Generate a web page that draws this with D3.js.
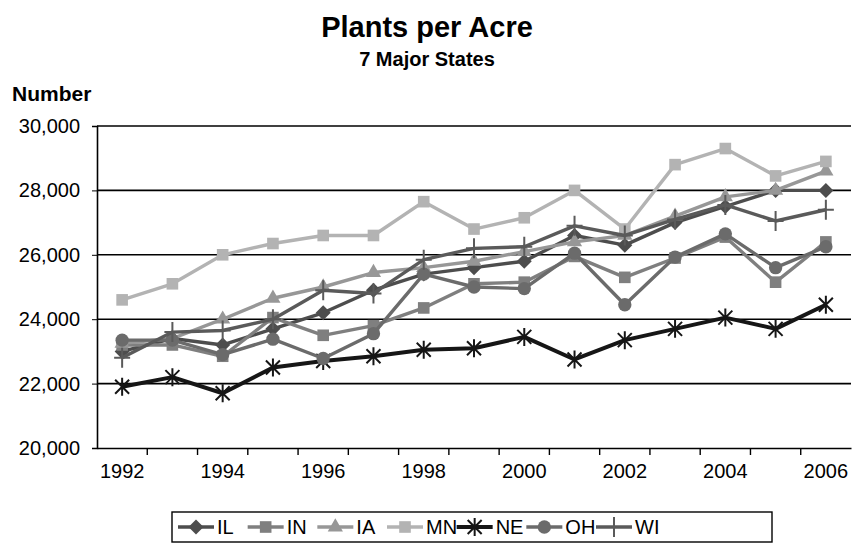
<!DOCTYPE html>
<html>
<head>
<meta charset="UTF-8" />
<title>Plants per Acre</title>
<script src="https://cdn.jsdelivr.net/npm/d3@7"></script>
<style>
  body { margin: 0; background: #fff; }
  svg { font-family: "Liberation Sans", Arial, sans-serif; }
</style>
</head>
<body>
<svg id="chart" width="854" height="548"></svg>
<script>
// years on the category axis
var years = [1992, 1993, 1994, 1995, 1996, 1997, 1998, 1999, 2000, 2001, 2002, 2003, 2004, 2005, 2006]
var yTicks = [20000, 22000, 24000, 26000, 28000, 30000]

// plants per acre by state
var IL = [23000, 23400, 23200, 23700, 24200, 24900, 25400, 25600, 25800, 26600, 26300, 27000, 27500, 28000, 28000]
var IN = [23200, 23200, 22850, 24050, 23500, 23800, 24350, 25100, 25150, 25950, 25300, 25900, 26550, 25150, 26400]
var IA = [23250, 23400, 24000, 24650, 25000, 25450, 25600, 25800, 26100, 26400, 26600, 27200, 27800, 28000, 28600]
var MN = [24600, 25100, 26000, 26350, 26600, 26600, 27650, 26800, 27150, 28000, 26800, 28800, 29300, 28450, 28900]
var NE = [21900, 22200, 21700, 22500, 22700, 22850, 23050, 23100, 23450, 22750, 23350, 23700, 24050, 23700, 24450]
var OH = [23350, 23350, 22900, 23380, 22780, 23550, 25400, 25000, 24950, 26050, 24450, 25930, 26650, 25600, 26250]
var WI = [22800, 23600, 23650, 24000, 24900, 24800, 25850, 26200, 26250, 26900, 26600, 27100, 27550, 27050, 27400]

var seriesNames = ["IL", "IN", "IA", "MN", "NE", "OH", "WI"]
var seriesValues = [IL, IN, IA, MN, NE, OH, WI]

var colors = {IL: "#4d4d4d", IN: "#7f7f7f", IA: "#979797", MN: "#b3b3b3", NE: "#161616", OH: "#6b6b6b", WI: "#5a5a5a"}

var svg = d3.select("#chart")
var plotLeft = 97, plotRight = 851, plotTop = 126, plotBottom = 448

var xBand = d3.scaleBand().domain(years).range([plotLeft, plotRight])
var x = d => xBand(d) + xBand.bandwidth() / 2
var y = d3.scaleLinear().domain([20000, 30000]).range([plotBottom, plotTop])

// titles
svg.append("text").attr("x", 427).attr("y", 37).attr("text-anchor", "middle")
  .style("font-size", "29px").style("font-weight", "bold").text("Plants per Acre")
svg.append("text").attr("x", 427).attr("y", 66).attr("text-anchor", "middle")
  .style("font-size", "20px").style("font-weight", "bold").text("7 Major States")
svg.append("text").attr("x", 12).attr("y", 101)
  .style("font-size", "21px").style("font-weight", "bold").text("Number")

// gridlines
svg.append("g").selectAll("line").data(yTicks.slice(1)).enter().append("line")
  .attr("x1", plotLeft).attr("x2", plotRight)
  .attr("y1", d => y(d)).attr("y2", d => y(d))
  .attr("stroke", "#000").attr("stroke-width", 1.6)

// y axis
var yAxis = d3.axisLeft(y).tickValues(yTicks).tickFormat(d3.format(",")).tickSize(5).tickPadding(12)
var yG = svg.append("g").attr("transform", "translate(" + plotLeft + ",0)").call(yAxis)
yG.select(".domain").attr("stroke-width", 1.6)
yG.selectAll("text").style("font-size", "20px").attr("fill", "#000")

// x axis: labels on every other year, ticks between categories
var xAxis = d3.axisBottom(xBand).tickSize(0).tickPadding(16)
  .tickFormat((d, i) => i % 2 == 0 ? d : "")
var xG = svg.append("g").attr("transform", "translate(0," + plotBottom + ")").call(xAxis)
xG.select(".domain").attr("stroke-width", 1.6)
xG.selectAll("text").style("font-size", "20px").attr("fill", "#000")
xG.selectAll(".sep").data(years.slice(1)).enter().append("line")
  .attr("class", "sep")
  .attr("x1", d => xBand(d)).attr("x2", d => xBand(d))
  .attr("y1", 0).attr("y2", 7)
  .attr("stroke", "#000").attr("stroke-width", 1.4)

// marker shapes
function marker(name) {
  if (name == "IL") return "M0,-7.5L7.5,0L0,7.5L-7.5,0Z"
  if (name == "IN" || name == "MN") return d3.symbol().type(d3.symbolSquare).size(135)()
  if (name == "IA") return d3.symbol().type(d3.symbolTriangle).size(100)()
  if (name == "OH") return d3.symbol().type(d3.symbolCircle).size(140)()
  if (name == "NE") return "M-7,-7L7,7M-7,7L7,-7M0,-9V9"
  return "M-8,0H8M0,-10V10"
}
function isStroked(name) { return name == "NE" || name == "WI" }

var line = d3.line().x((d, i) => x(years[i])).y(d => y(d))

seriesNames.forEach(function(name, k) {
  var vals = seriesValues[k]
  var g = svg.append("g")
  g.append("path").attr("d", line(vals)).attr("fill", "none")
    .attr("stroke", colors[name]).attr("stroke-width", name == "NE" ? 4 : 3.4)
    .attr("stroke-linejoin", "round")
  g.selectAll("path.m").data(vals).enter().append("path")
    .attr("class", "m")
    .attr("transform", (d, i) => "translate(" + x(years[i]) + "," + y(d) + ")")
    .attr("d", marker(name))
    .attr("fill", isStroked(name) ? "none" : colors[name])
    .attr("stroke", isStroked(name) ? colors[name] : "none")
    .attr("stroke-width", 2)
})

// legend
var lg = svg.append("g")
lg.append("rect").attr("x", 172).attr("y", 512).attr("width", 600).attr("height", 30)
  .attr("fill", "#fff").attr("stroke", "#000").attr("stroke-width", 1.4)
var legX = d3.scalePoint().domain(seriesNames).range([178, 596])
seriesNames.forEach(function(name) {
  var lx = legX(name)
  lg.append("line").attr("x1", lx).attr("x2", lx + 36).attr("y1", 527).attr("y2", 527)
    .attr("stroke", colors[name]).attr("stroke-width", name == "NE" ? 4 : 3.4)
  lg.append("path").attr("transform", "translate(" + (lx + 18) + ",527)")
    .attr("d", marker(name))
    .attr("fill", isStroked(name) ? "none" : colors[name])
    .attr("stroke", isStroked(name) ? colors[name] : "none")
    .attr("stroke-width", 2)
  lg.append("text").attr("x", lx + 39).attr("y", 534)
    .style("font-size", "20px").text(name)
})
</script>
</body>
</html>
